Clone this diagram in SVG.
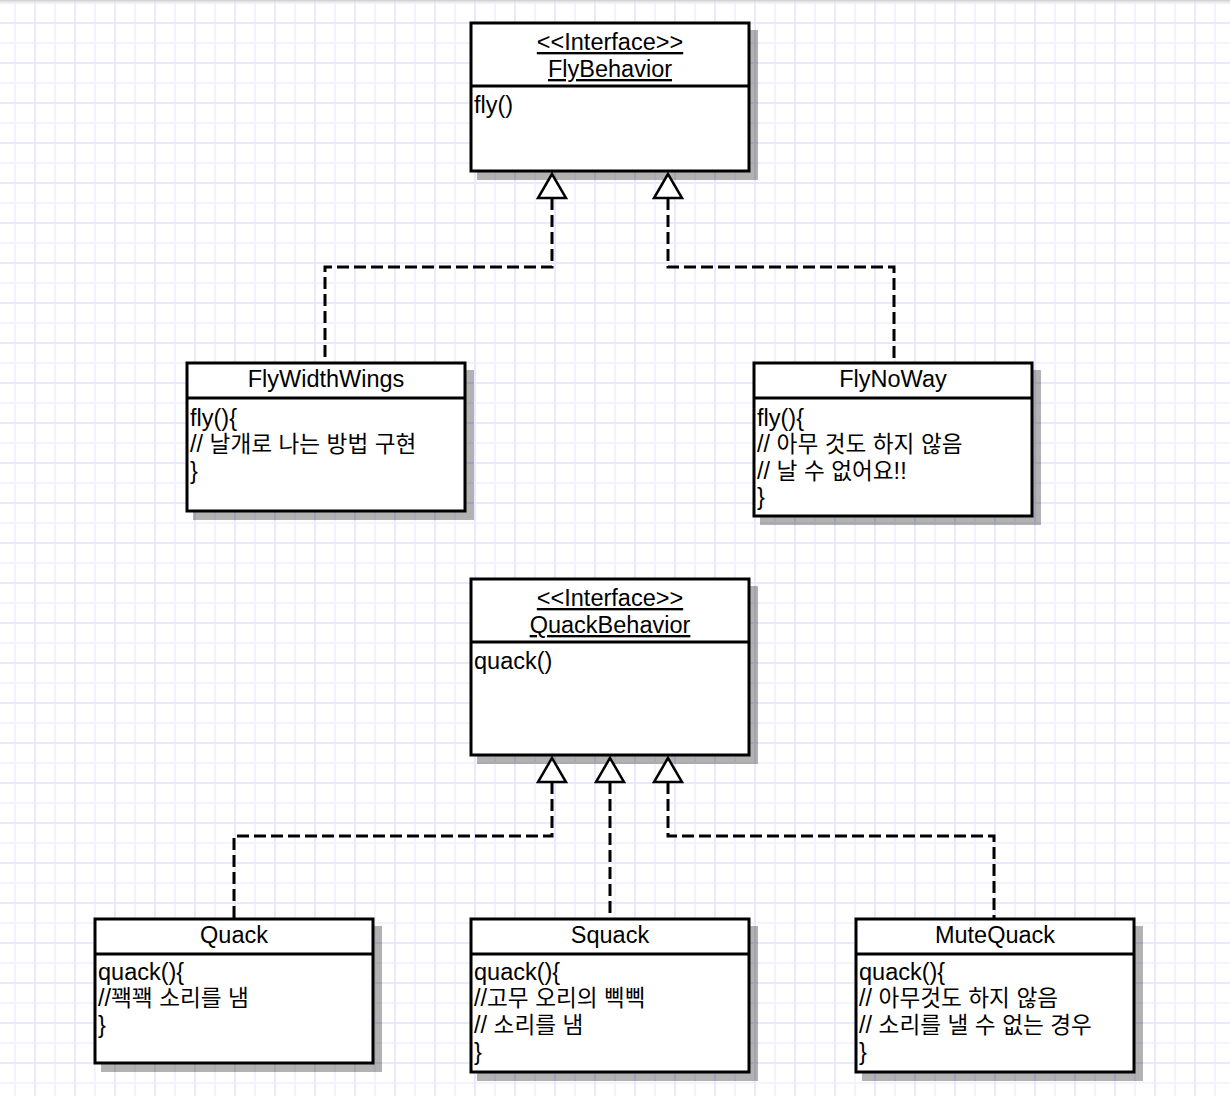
<svg xmlns="http://www.w3.org/2000/svg" width="1230" height="1096" viewBox="0 0 1230 1096">
<defs>
<pattern id="grid" patternUnits="userSpaceOnUse" x="14" y="2" width="40" height="40">
<rect x="0" y="0" width="40" height="40" fill="#ffffff"/>
<rect x="0" y="0" width="2" height="40" fill="#f3f3ff"/>
<rect x="0" y="0" width="40" height="2" fill="#f3f3ff"/>
<rect x="20" y="0" width="2" height="40" fill="#e8e8ff"/>
<rect x="0" y="20" width="40" height="2" fill="#e8e8ff"/>
</pattern>
<linearGradient id="topbar" x1="0" y1="0" x2="0" y2="1">
<stop offset="0" stop-color="#c8c8c8"/>
<stop offset="1" stop-color="#ffffff" stop-opacity="0"/>
</linearGradient>
</defs>
<style>
.box{fill:#ffffff;stroke:#000;stroke-width:3}
.div{stroke:#000;stroke-width:3}
.shadow{fill:#000;fill-opacity:0.3}
.t{font-family:"Liberation Sans","Noto Sans CJK KR",Arial,sans-serif;font-size:23.5px;fill:#000}
.c{text-anchor:middle}
.u{text-decoration:underline}
.ko{font-size:22.6px}
.dash{fill:none;stroke:#000;stroke-width:3;stroke-dasharray:12 5}
.tri{fill:#fff;stroke:#000;stroke-width:2.5;stroke-linejoin:miter}
</style>
<rect x="0" y="0" width="1230" height="1096" fill="url(#grid)"/>
<rect x="0" y="0" width="1230" height="5" fill="url(#topbar)"/>

<g id="connectors">
<polyline class="dash" points="552,198 552,267 325,267 325,362"/>
<polyline class="dash" points="668,198 668,267 894,267 894,362"/>
<polyline class="dash" points="552,782 552,836 234,836 234,918"/>
<polyline class="dash" points="610,782 610,918"/>
<polyline class="dash" points="668,782 668,836 994,836 994,918"/>
</g>

<g id="FlyBehavior">
<rect class="shadow" x="477" y="30" width="281" height="150"/>
<rect class="box" x="471" y="23" width="278" height="148"/>
<line class="div" x1="471" y1="86" x2="749" y2="86"/>
<text class="t c u" x="610" y="50">&lt;&lt;Interface&gt;&gt;</text>
<text class="t c u" x="610" y="77">FlyBehavior</text>
<text class="t" x="474" y="113">fly()</text>
</g>

<g id="FlyWidthWings">
<rect class="shadow" x="193" y="370" width="281" height="150"/>
<rect class="box" x="187" y="363" width="278" height="148"/>
<line class="div" x1="187" y1="398" x2="465" y2="398"/>
<text class="t c" x="326" y="387">FlyWidthWings</text>
<text class="t" x="190" y="426">fly(){</text>
<text class="t" x="190" y="452">// <tspan class="ko">날개로</tspan> <tspan class="ko">나는</tspan> <tspan class="ko">방법</tspan> <tspan class="ko">구현</tspan></text>
<text class="t" x="190" y="479">}</text>
</g>

<g id="FlyNoWay">
<rect class="shadow" x="760" y="370" width="281" height="155"/>
<rect class="box" x="754" y="363" width="278" height="153"/>
<line class="div" x1="754" y1="398" x2="1032" y2="398"/>
<text class="t c" x="893" y="387">FlyNoWay</text>
<text class="t" x="757" y="426">fly(){</text>
<text class="t" x="757" y="452">// <tspan class="ko">아무</tspan> <tspan class="ko">것도</tspan> <tspan class="ko">하지</tspan> <tspan class="ko">않음</tspan></text>
<text class="t" x="757" y="479">// <tspan class="ko">날</tspan> <tspan class="ko">수</tspan> <tspan class="ko">없어요</tspan>!!</text>
<text class="t" x="757" y="505">}</text>
</g>

<g id="QuackBehavior">
<rect class="shadow" x="477" y="586" width="281" height="178"/>
<rect class="box" x="471" y="579" width="278" height="176"/>
<line class="div" x1="471" y1="642" x2="749" y2="642"/>
<text class="t c u" x="610" y="606">&lt;&lt;Interface&gt;&gt;</text>
<text class="t c u" x="610" y="633">QuackBehavior</text>
<text class="t" x="474" y="669">quack()</text>
</g>

<g id="Quack">
<rect class="shadow" x="101" y="926" width="281" height="146"/>
<rect class="box" x="95" y="919" width="278" height="144"/>
<line class="div" x1="95" y1="954" x2="373" y2="954"/>
<text class="t c" x="234" y="943">Quack</text>
<text class="t" x="98" y="980">quack(){</text>
<text class="t" x="98" y="1006">//<tspan class="ko">꽥꽥</tspan> <tspan class="ko">소리를</tspan> <tspan class="ko">냄</tspan></text>
<text class="t" x="98" y="1033">}</text>
</g>

<g id="Squack">
<rect class="shadow" x="477" y="926" width="281" height="155"/>
<rect class="box" x="471" y="919" width="278" height="153"/>
<line class="div" x1="471" y1="954" x2="749" y2="954"/>
<text class="t c" x="610" y="943">Squack</text>
<text class="t" x="474" y="980">quack(){</text>
<text class="t" x="474" y="1006">//<tspan class="ko">고무</tspan> <tspan class="ko">오리의</tspan> <tspan class="ko">삑삑</tspan></text>
<text class="t" x="474" y="1033">// <tspan class="ko">소리를</tspan> <tspan class="ko">냄</tspan></text>
<text class="t" x="474" y="1060">}</text>
</g>

<g id="MuteQuack">
<rect class="shadow" x="862" y="926" width="281" height="155"/>
<rect class="box" x="856" y="919" width="278" height="153"/>
<line class="div" x1="856" y1="954" x2="1134" y2="954"/>
<text class="t c" x="995" y="943">MuteQuack</text>
<text class="t" x="859" y="980">quack(){</text>
<text class="t" x="859" y="1006">// <tspan class="ko">아무것도</tspan> <tspan class="ko">하지</tspan> <tspan class="ko">않음</tspan></text>
<text class="t" x="859" y="1033">// <tspan class="ko">소리를</tspan> <tspan class="ko">낼</tspan> <tspan class="ko">수</tspan> <tspan class="ko">없는</tspan> <tspan class="ko">경우</tspan></text>
<text class="t" x="859" y="1060">}</text>
</g>

<g id="arrowheads">
<polygon class="tri" points="552,174 538,198 566,198"/>
<polygon class="tri" points="668,174 654,198 682,198"/>
<polygon class="tri" points="552,758 538,782 566,782"/>
<polygon class="tri" points="610,758 596,782 624,782"/>
<polygon class="tri" points="668,758 654,782 682,782"/>
</g>
</svg>
